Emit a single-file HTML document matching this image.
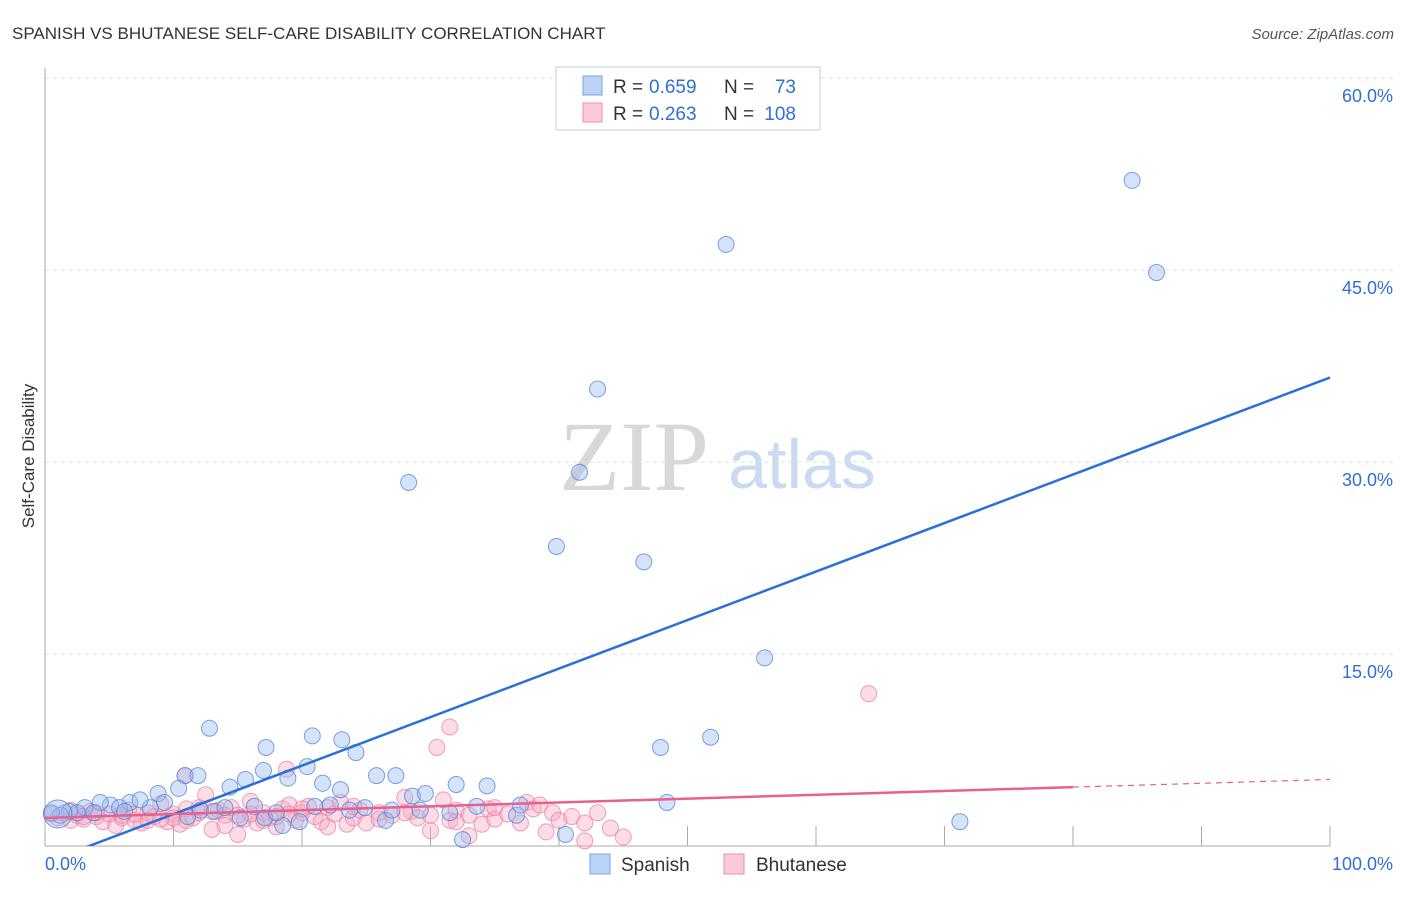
<!DOCTYPE html>
<html><head><meta charset="utf-8"><style>
body{margin:0;background:#fff;font-family:"Liberation Sans",sans-serif;}
</style></head><body>
<svg id="chart" width="1406" height="892" xmlns="http://www.w3.org/2000/svg" style="font-family:'Liberation Sans',sans-serif">
<defs><clipPath id="plotclip"><rect x="45" y="60" width="1290" height="786"/></clipPath></defs>
<text x="12" y="39" font-size="17" fill="#333">SPANISH VS BHUTANESE SELF-CARE DISABILITY CORRELATION CHART</text>
<text x="1394" y="39" font-size="15" fill="#555" font-style="italic" text-anchor="end">Source: ZipAtlas.com</text>
<text x="634" y="490" font-size="100" fill="#d8d8d8" style="font-family:'Liberation Serif',serif" text-anchor="middle">ZIP</text>
<text x="802" y="488" font-size="70" fill="#c9daf2" text-anchor="middle">atlas</text>
<g id="grid"></g>
<g id="axes"></g>
<g id="points"></g>
<g id="lines" clip-path="url(#plotclip)"></g>
<text transform="translate(34,456) rotate(-90)" font-size="17" fill="#333" text-anchor="middle">Self-Care Disability</text>
<g>
<rect x="556" y="67" width="264" height="63" fill="#fff" stroke="#ccc"/>
<rect x="583" y="76" width="19" height="19" fill="#bcd3f5" stroke="#7aa3e6"/>
<text x="613" y="93" font-size="19" fill="#333">R =</text>
<text x="649" y="93" font-size="19" fill="#2f6fd6">0.659</text>
<text x="724" y="93" font-size="19" fill="#333">N =</text>
<text x="796" y="93" font-size="19" fill="#2f6fd6" text-anchor="end">73</text>
<rect x="583" y="103" width="19" height="19" fill="#fbcad8" stroke="#f08cab"/>
<text x="613" y="120" font-size="19" fill="#333">R =</text>
<text x="649" y="120" font-size="19" fill="#2f6fd6">0.263</text>
<text x="724" y="120" font-size="19" fill="#333">N =</text>
<text x="796" y="120" font-size="19" fill="#2f6fd6" text-anchor="end">108</text>
</g>
<g>
<rect x="590" y="854" width="20" height="20" fill="#bcd3f5" stroke="#7aa3e6"/>
<text x="621" y="871" font-size="19" fill="#333">Spanish</text>
<rect x="724" y="854" width="20" height="20" fill="#fbcad8" stroke="#f08cab"/>
<text x="756" y="871" font-size="19" fill="#333">Bhutanese</text>
</g>
</svg>
<script>
const yTicks=[15,30,45,60];
const yTickLabels=["15.0%","30.0%","45.0%","60.0%"];
const xTickLabels=["0.0%","100.0%"];
const spanish=[[84.6,52.0],[86.5,44.8],[53.0,47.0],[43.0,35.7],[28.3,28.4],[41.6,29.2],[39.8,23.4],[46.6,22.2],[56.0,14.7],[12.8,9.2],[20.8,8.6],[23.1,8.3],[17.2,7.7],[24.2,7.3],[47.9,7.7],[51.8,8.5],[10.9,5.5],[11.9,5.5],[17.0,5.9],[15.6,5.2],[20.4,6.2],[25.8,5.5],[27.3,5.5],[18.9,5.3],[21.6,4.9],[32.0,4.8],[34.4,4.7],[10.4,4.5],[8.8,4.1],[14.4,4.6],[28.6,3.9],[29.6,4.1],[23.0,4.4],[48.4,3.4],[71.2,1.9],[40.5,0.9],[32.5,0.5],[26.5,2.0],[31.5,2.6],[36.7,2.4],[37.0,3.2],[33.6,3.1],[24.9,3.0],[19.8,1.9],[18.5,1.6],[17.1,2.2],[15.2,2.2],[11.1,2.3],[8.2,3.0],[6.6,3.4],[5.1,3.2],[4.3,3.4],[3.1,3.0],[1.9,2.7],[1.2,2.4],[5.8,3.0],[7.4,3.6],[9.3,3.4],[12.1,2.8],[13.2,2.7],[16.3,3.1],[21.0,3.1],[22.2,3.2],[23.7,2.8],[29.2,2.8],[0.5,2.6],[2.5,2.6],[3.8,2.6],[6.2,2.7],[14.0,3.0],[18.0,2.6],[27.0,2.8],[1.0,2.5]];
const bhutanese=[[64.1,11.9],[31.5,9.3],[30.5,7.7],[18.8,6.0],[10.9,5.5],[0.5,2.5],[1,2.2],[1.5,2.6],[2,2.0],[2.5,2.4],[3,2.1],[3.5,2.7],[4,2.3],[4.5,1.9],[5,2.5],[5.5,1.6],[6,2.2],[6.5,2.8],[7,2.0],[7.5,1.8],[8,2.6],[8.5,2.3],[9,3.3],[9.5,1.9],[10,2.5],[10.5,1.7],[11,2.9],[11.5,2.2],[12,2.6],[12.5,4.0],[13,1.3],[13.5,2.8],[14,2.4],[14.5,3.0],[15,0.9],[15.5,2.1],[16,3.5],[16.5,1.8],[17,2.6],[17.5,2.2],[18,1.5],[18.5,2.9],[19,3.2],[19.5,2.0],[20,2.6],[20.5,3.1],[21,2.3],[21.5,1.9],[22,3.0],[22.5,2.5],[23,3.4],[23.5,1.7],[24,2.2],[24.5,2.8],[25,1.8],[26,2.6],[27,2.4],[28,3.8],[28.5,2.7],[29,2.2],[30,1.2],[31,3.6],[31.5,2.0],[32,2.8],[33,2.4],[34,1.7],[34.5,2.9],[35,2.1],[36,2.5],[37,1.8],[37.5,3.4],[38,2.9],[38.5,3.2],[39,1.1],[39.5,2.6],[40,2.0],[41,2.3],[42,1.8],[43,2.6],[44,1.4],[45,0.7],[2,2.8],[4,2.6],[6,2.4],[8,2.0],[10,2.2],[12,3.0],[14,1.6],[16,2.5],[18,2.3],[20,2.9],[22,1.5],[24,3.1],[26,2.1],[28,2.6],[30,2.4],[32,1.9],[35,3.0],[42,0.4],[33,0.8],[3,2.3],[7,2.5],[9,2.1],[11,2.0],[13,2.7],[15,2.4],[17,2.0],[19,2.5]];
const blueTrend=[-1.3,36.6];
const pinkTrend=[2.2,4.6,5.2];
const NS='http://www.w3.org/2000/svg';
const X0=45,X1=1330,Y0=846,PY=12.8;
const sx=v=>X0+(X1-X0)*v/100;
const sy=v=>Y0-v*PY;
function mk(tag,attrs,parent){const e=document.createElementNS(NS,tag);for(const k in attrs)e.setAttribute(k,attrs[k]);document.getElementById(parent).appendChild(e);return e;}
yTicks.forEach((t,i)=>{
 const l=mk('line',{x1:X0,x2:1394,y1:sy(t),y2:sy(t),stroke:'#ddd','stroke-dasharray':'4,4'},'grid');
 
 
 const tx=mk('text',{x:1393,y:sy(t)+24,'font-size':18,fill:'#2f6fd6','text-anchor':'end'},'grid');
 tx.textContent=yTickLabels[i];
 
 
});
const ya=mk('line',{x1:X0,x2:X0,y1:68,y2:Y0,stroke:'#aaa'},'axes');


const xa=mk('line',{x1:X0,x2:X1,y1:Y0,y2:Y0,stroke:'#aaa'},'axes');


for(let i=0;i<=10;i++){
 const t=mk('line',{x1:sx(i*10),x2:sx(i*10),y1:Y0,y2:Y0-20,stroke:'#aaa'},'axes');
 
 
}
[[0,'start',45],[100,'end',1393]].forEach((d,i)=>{
 const t=mk('text',{x:d[2],y:870,'font-size':18,fill:'#2f6fd6','text-anchor':d[1]},'axes');
 t.textContent=xTickLabels[i];
 
 
});
bhutanese.forEach(p=>{
 const c=mk('circle',{cx:sx(p[0]),cy:sy(p[1]),r:8,fill:'rgba(248,170,195,0.4)',stroke:'rgba(235,120,160,0.7)'},'points');
 
 
});
spanish.forEach((p,i)=>{
 const c=mk('circle',{cx:sx(p[0]),cy:sy(p[1]),r:i==spanish.length-1?14:8,fill:'rgba(150,185,240,0.4)',stroke:'rgba(80,130,215,0.75)'},'points');
 
 
});
const bl=mk('line',{x1:sx(0),y1:sy(blueTrend[0]),x2:sx(100),y2:sy(blueTrend[1]),stroke:'#2b6fd8','stroke-width':2.5},'lines');


const pl=mk('line',{x1:sx(0),y1:sy(pinkTrend[0]),x2:sx(80),y2:sy(pinkTrend[1]),stroke:'#e8608e','stroke-width':2.5},'lines');


const pd=mk('line',{x1:sx(80),y1:sy(pinkTrend[1]),x2:sx(100),y2:sy(pinkTrend[2]),stroke:'#e8608e','stroke-width':1.2,'stroke-dasharray':'6,5'},'lines');


</script>
</body></html>
